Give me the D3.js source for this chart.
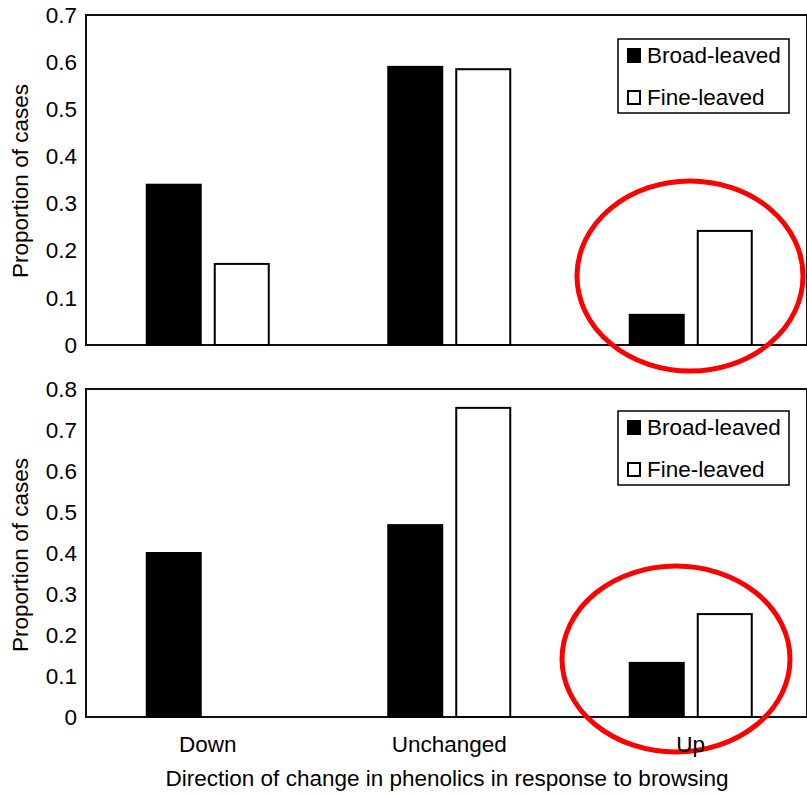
<!DOCTYPE html>
<html>
<head>
<meta charset="utf-8">
<script src="https://cdn.jsdelivr.net/npm/d3@7"></script>
<style>
  html, body { margin: 0; padding: 0; background: #fff; }
  svg { display: block; }
  text { font-family: "Liberation Sans", Arial, Helvetica, sans-serif; fill: #000; }
</style>
</head>
<body>
<svg id="chart" width="807" height="795"></svg>
<script>
// Phenolic response categories and series
const categories = ["Down", "Unchanged", "Up"];
const seriesNames = ["Broad-leaved", "Fine-leaved"];

// Panel 1 proportions
const topBroad = [0.34, 0.59, 0.064];
const topFine  = [0.172, 0.585, 0.242];
const topTicks = [0, 0.1, 0.2, 0.3, 0.4, 0.5, 0.6, 0.7];

// Panel 2 proportions
const bottomBroad = [0.40, 0.468, 0.132];
const bottomFine  = [0, 0.754, 0.251];
const bottomTicks = [0, 0.1, 0.2, 0.3, 0.4, 0.5, 0.6, 0.7, 0.8];

const svg = d3.select("#chart");
const fills = { "Broad-leaved": "#000", "Fine-leaved": "#fff" };

const x = d3.scaleBand().domain(categories).range([87, 811.5]).padding(0);
const xInner = d3.scaleBand().domain(seriesNames)
  .range([x.bandwidth() / 2 - 61, x.bandwidth() / 2 + 61])
  .paddingInner(14 / 68).paddingOuter(0);

function drawPanel(cfg) {
  const y = d3.scaleLinear().domain([0, cfg.max]).range([cfg.bottom, cfg.top]);
  const g = svg.append("g");

  // Frame: left axis, top border and right border
  g.append("rect")
    .attr("x", 86).attr("y", cfg.top)
    .attr("width", 721).attr("height", cfg.bottom - cfg.top)
    .attr("fill", "none").attr("stroke", "#111").attr("stroke-width", 2);

  // Bars
  const rows = [];
  categories.forEach((c, i) => {
    rows.push({ cat: c, series: "Broad-leaved", value: cfg.broad[i] });
    rows.push({ cat: c, series: "Fine-leaved", value: cfg.fine[i] });
  });
  g.selectAll("rect.bar").data(rows).join("rect")
    .attr("class", "bar")
    .attr("x", d => x(d.cat) + xInner(d.series))
    .attr("width", xInner.bandwidth())
    .attr("y", d => y(d.value))
    .attr("height", d => y(0) - y(d.value))
    .attr("fill", d => fills[d.series])
    .attr("stroke", "#000").attr("stroke-width", 2);

  // Y axis labels (no tick marks)
  const axis = d3.axisLeft(y).tickValues(cfg.ticks).tickSize(0).tickPadding(9)
    .tickFormat(d => d === 0 ? "0" : d3.format(".1f")(d));
  const ag = g.append("g").attr("transform", "translate(86,0)").call(axis);
  ag.select(".domain").remove();
  ag.selectAll("text").style("font-size", "22.5px")
    .style("font-family", '"Liberation Sans", Arial, sans-serif').attr("fill", "#000");

  // Y axis title
  g.append("text")
    .attr("transform", `translate(28,${cfg.titleY}) rotate(-90)`)
    .attr("text-anchor", "middle")
    .style("font-size", "22.5px")
    .text("Proportion of cases");

  // Legend
  const lg = g.append("g").attr("transform", `translate(618,${cfg.legendY})`);
  lg.append("rect").attr("x", 0).attr("y", 0).attr("width", 171).attr("height", 74)
    .attr("fill", "#fff").attr("stroke", "#000").attr("stroke-width", 1.5);
  seriesNames.forEach((s, i) => {
    const yy = 10 + i * 42;
    lg.append("rect").attr("x", 10).attr("y", yy).attr("width", 12).attr("height", 13)
      .attr("fill", fills[s]).attr("stroke", "#000").attr("stroke-width", 2);
    lg.append("text").attr("x", 29).attr("y", yy + 14)
      .style("font-size", "22.5px").text(s);
  });

  // Highlight ellipse around the "Up" group
  g.append("ellipse")
    .attr("cx", cfg.ell[0]).attr("cy", cfg.ell[1])
    .attr("rx", cfg.ell[2]).attr("ry", cfg.ell[3])
    .attr("fill", "none").attr("stroke", "#f00").attr("stroke-width", 5);
}

drawPanel({ top: 15, bottom: 345, max: 0.7, ticks: topTicks, broad: topBroad, fine: topFine,
  titleY: 181, legendY: 39, ell: [690, 276, 113, 95] });
drawPanel({ top: 389, bottom: 717, max: 0.8, ticks: bottomTicks, broad: bottomBroad, fine: bottomFine,
  titleY: 555, legendY: 411, ell: [676, 659, 114, 93] });

// Category labels along the bottom axis
svg.append("g").selectAll("text").data(categories).join("text")
  .attr("x", d => x(d) + x.bandwidth() / 2)
  .attr("y", 752)
  .attr("text-anchor", "middle")
  .style("font-size", "22.5px")
  .text(d => d);

svg.append("text")
  .attr("x", 447).attr("y", 786)
  .attr("text-anchor", "middle")
  .style("font-size", "22.5px")
  .text("Direction of change in phenolics in response to browsing");
</script>
</body>
</html>
